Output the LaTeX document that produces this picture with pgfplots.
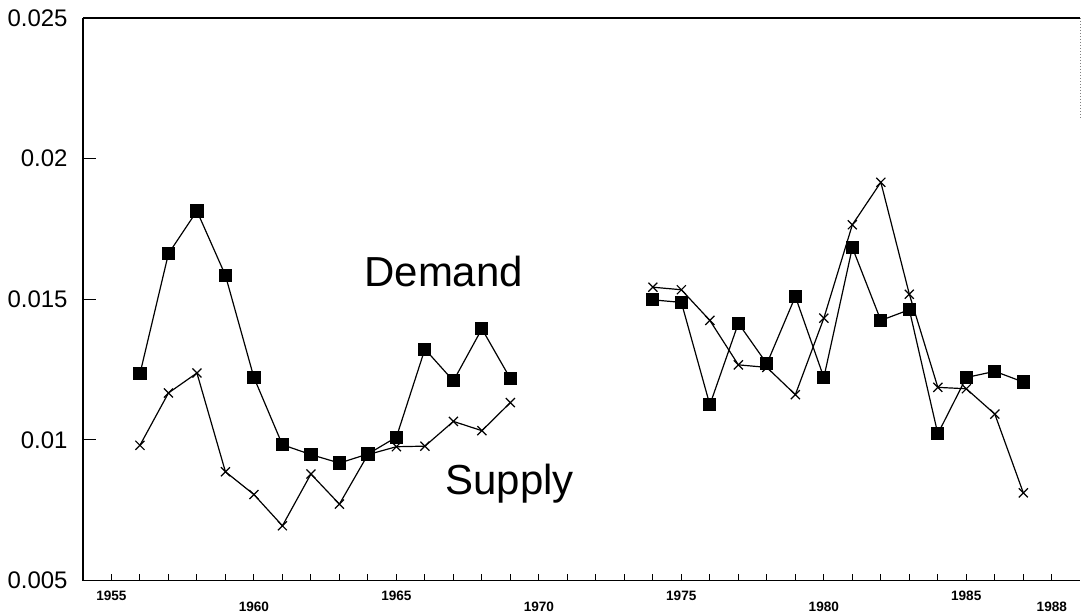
\documentclass[border=0pt]{standalone}
\usepackage{fontspec}
\setmainfont{Liberation Sans}
\usepackage{pgfplots}
\pgfplotsset{compat=1.18}
\begin{document}
\begin{tikzpicture}
\path (-41.5pt,-17pt) rectangle (499pt,290.5pt);
\begin{axis}[
  at={(0,0)}, anchor=south west,
  scale only axis, width=499pt, height=281.5pt,
  xmin=1954, xmax=1989, ymin=0.005, ymax=0.025,
  scaled y ticks=false, scaled x ticks=false,
  axis lines*=left,
  axis line style={line width=0.7pt},
  tick align=inside,
  major tick length=3.5pt,
  minor tick length=6.5pt,
  xtick={1954,...,1988},
  xticklabels={,1955,,,,,,,,,,1965,,,,,,,,,,1975,,,,,,,,,,1985,,,},
  extra x ticks={1960,1970,1980,1988},
  extra x tick labels={1960,1970,1980,1988},
  extra x tick style={xticklabel style={yshift=-5.5pt}},
  xticklabel style={font=\fontsize{6.8}{7}\selectfont\bfseries, anchor=north, inner sep=0pt, yshift=-5pt},
  ytick={0.005,0.01,0.015,0.02,0.025},
  yticklabels={0.005,0.01,0.015,0.02,0.025},
  minor ytick={0.01,0.015,0.02},
  every major y tick/.style={draw=none},
  yticklabel style={font=\fontsize{12}{12}\selectfont, anchor=east, inner sep=0pt, xshift=-7.5pt},
  tick style={black, line width=0.5pt},
  /pgf/number format/assume math mode=true,
  clip=false,
]
% Demand
\addplot[black, line width=0.6pt, mark=square*, mark size=3pt] coordinates {
(1956,0.01235) (1957,0.01662) (1958,0.01814) (1959,0.01585) (1960,0.01222)
(1961,0.00983) (1962,0.00948) (1963,0.00918) (1964,0.00950) (1965,0.01010)
(1966,0.01323) (1967,0.01210) (1968,0.01395) (1969,0.01218)};
\addplot[black, line width=0.6pt, mark=square*, mark size=3pt] coordinates {
(1974,0.01498) (1975,0.01489) (1976,0.01125) (1977,0.01415) (1978,0.01271)
(1979,0.01510) (1980,0.01222) (1981,0.01684) (1982,0.01425) (1983,0.01463)
(1984,0.01022) (1985,0.01222) (1986,0.01244) (1987,0.01206)};
% Supply
\addplot[black, line width=0.6pt, mark=x, mark size=3.2pt, mark options={line width=0.6pt}] coordinates {
(1956,0.00981) (1957,0.01167) (1958,0.01238) (1959,0.00887) (1960,0.00806)
(1961,0.00695) (1962,0.00879) (1963,0.00772) (1964,0.00948) (1965,0.00976)
(1966,0.00978) (1967,0.01066) (1968,0.01033) (1969,0.01133)};
\addplot[black, line width=0.6pt, mark=x, mark size=3.2pt, mark options={line width=0.6pt}] coordinates {
(1974,0.01543) (1975,0.01534) (1976,0.01425) (1977,0.01267) (1978,0.01258)
(1979,0.01161) (1980,0.01433) (1981,0.01765) (1982,0.01916) (1983,0.01518)
(1984,0.01187) (1985,0.01182) (1986,0.01092) (1987,0.00812)};
\draw[line width=0.7pt] (rel axis cs:0,1) -- (rel axis cs:1,1);
\draw[black!50, densely dotted, line width=0.5pt] (rel axis cs:1,1) -- (rel axis cs:1,0.82);
\node[anchor=base, inner sep=0pt, font=\fontsize{21}{21}\selectfont] at (axis cs:1966.66,0.015444) {Demand};
\node[anchor=base, inner sep=0pt, font=\fontsize{21}{21}\selectfont] at (axis cs:1968.97,0.008055) {Supply};
\end{axis}
\end{tikzpicture}
\end{document}
